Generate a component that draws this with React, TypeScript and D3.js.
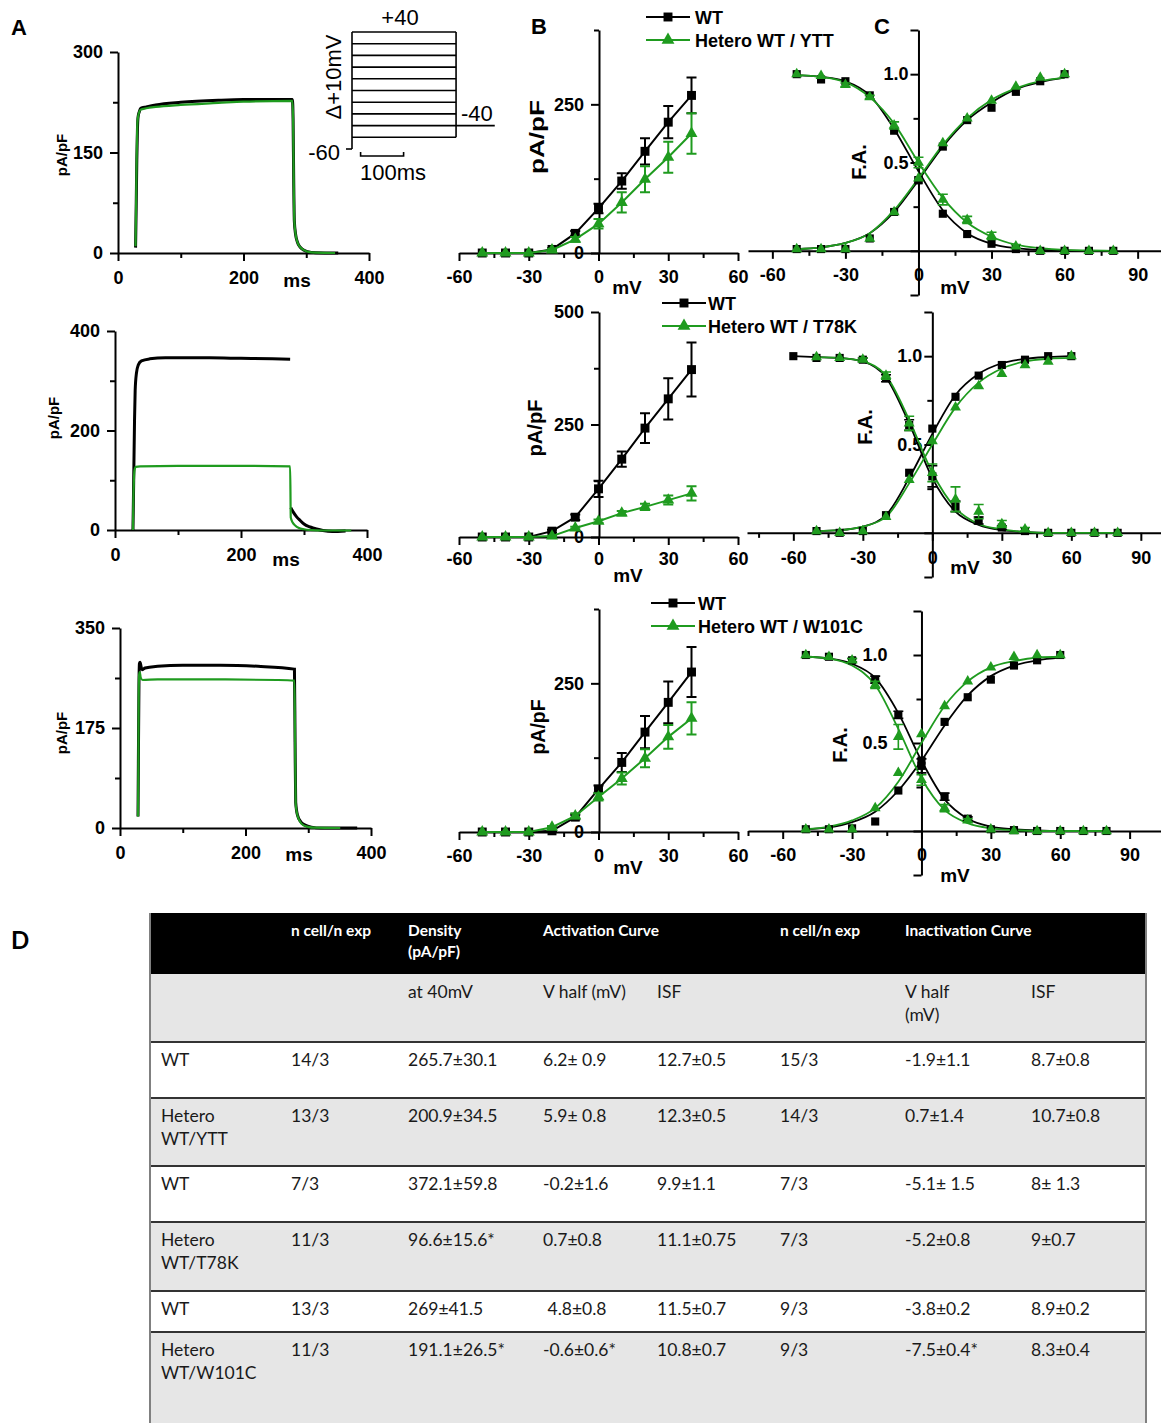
import * as React from 'react';
import * as d3 from 'd3';

type Pt = [number, number];

const GREEN = '#1f9b1f';
const FONT = '"Liberation Sans", Arial, sans-serif';
const TFONT = 'Lato, "Open Sans", sans-serif';

// ---------- A: representative current traces, [ms, pA/pF]
const TRACE_YTT_WT: Pt[] = [[28, 8], [29, 70], [30, 140], [31, 185], [32, 203], [34, 211], [36, 216], [45, 218], [60, 221], [100, 225], [160, 228], [200, 229], [278, 229], [279, 200], [280, 110], [281, 48], [283, 28], [286, 16], [290, 9], [295, 5], [302, 2], [315, 0.5], [351, 0]];
const TRACE_YTT_HET: Pt[] = [[28, 10], [29, 85], [30, 155], [31, 195], [33, 208], [36, 214], [45, 216], [60, 218], [100, 221], [160, 224], [200, 226], [278, 227], [279, 200], [280, 110], [281, 48], [283, 28], [286, 16], [290, 9], [295, 5], [302, 2], [315, 0.5], [346, 0]];
const TRACE_T78K_WT: Pt[] = [[28.5, 0], [29, 40], [30, 130], [31, 220], [32, 280], [34, 315], [37, 332], [42, 340], [55, 344], [80, 346], [150, 346], [200, 345], [250, 344], [278, 343], [278.5, NaN], [279, 45], [283, 36], [288, 27], [294, 19], [300, 12], [310, 6], [320, 2], [330, -1], [345, -3], [366, -2]];
const TRACE_T78K_HET: Pt[] = [[28.5, 0], [29, 50], [30, 100], [31, 120], [33, 127], [40, 128], [100, 129], [200, 129], [278, 128], [279, 25], [282, 15], [286, 9], [292, 4], [300, 1.5], [310, 0], [330, -1], [375, -1]];
const TRACE_W101C_WT: Pt[] = [[28.7, 20], [29.5, 150], [30.2, 250], [31, 288], [32, 290], [33.5, 283], [35, 277], [40, 280], [60, 283], [100, 285], [160, 285], [220, 283], [278, 278], [279, 150], [280, 45], [283, 22], [288, 11], [295, 5], [305, 1.5], [320, 0], [378, 0]];
const TRACE_W101C_HET: Pt[] = [[28.7, 20], [29.3, 120], [29.8, 230], [30.5, 268], [31.5, 273], [33, 263], [36, 259], [60, 260], [150, 260], [250, 259], [278, 258], [279, 150], [280, 42], [282, 26], [286, 13], [292, 5], [300, 2], [310, 0.5], [351, 0]];

// protocol inset: test steps (mV) and timing (ms)
const STEP_LEVELS = [40, 30, 20, 10, 0, -10, -20, -30, -40, -50];
const HOLD_MV = -60;
const TAIL_MV = -40;
const STEP_MS = 242;
const TAIL_END_MS = 332;

// ---------- B: current density vs voltage
const IV_V = [-50, -40, -30, -20, -10, 0, 10, 20, 30, 40];
const IV_YTT_WT = [0, 0, 0, 6, 33, 75, 121, 171, 220, 265];
const IV_YTT_WT_ERR = [0, 0, 0, 2, 4, 8, 13, 22, 27, 30];
const IV_YTT_HET = [0, 0, 0, 5, 23, 49, 85, 124, 161, 201];
const IV_YTT_HET_ERR = [0, 0, 0, 2, 4, 8, 17, 22, 26, 34];
const IV_T78K_WT = [0, 0, 0, 13, 44, 107, 173, 242, 307, 372];
const IV_T78K_WT_ERR = [0, 0, 0, 3, 6, 18, 17, 33, 46, 60];
const IV_T78K_HET = [0, 0, 0, 2, 20, 35, 53, 67, 82, 97];
const IV_T78K_HET_ERR = [0, 0, 0, 1, 3, 4, 5, 7, 10, 16];
const IV_W101C_WT = [0, 0, 0, 2, 25, 72, 117, 168, 218, 269];
const IV_W101C_WT_ERR = [0, 0, 0, 2, 4, 6, 16, 27, 35, 42];
const IV_W101C_HET = [0, 0, 0, 8, 27, 59, 90, 124, 160, 191];
const IV_W101C_HET_ERR = [0, 0, 0, 2, 4, 6, 10, 15, 20, 27];

// ---------- C: activation / inactivation (fraction available)
const ACT_V = [-50, -40, -30, -20, -10, 0, 10, 20, 30, 40, 50, 60];
const INACT_V = [-50, -40, -30, -20, -10, 0, 10, 20, 30, 40, 50, 60, 70, 80];
const INACT_V_FROM60 = [-60, -50, -40, -30, -20, -10, 0, 10, 20, 30, 40, 50, 60, 70, 80];

const FA_YTT_WT_ACT = [0.01, 0.01, 0.01, 0.07, 0.22, 0.40, 0.59, 0.74, 0.81, 0.90, 0.96, 1.0];
const FA_YTT_HET_ACT = [0.01, 0.01, 0.01, 0.07, 0.22, 0.41, 0.61, 0.75, 0.85, 0.93, 0.98, 1.0];
const FA_YTT_WT_INACT = [1.0, 0.97, 0.96, 0.88, 0.68, 0.40, 0.21, 0.095, 0.04, 0.01, 0, 0, 0, 0];
const FA_YTT_HET_INACT = [1.0, 0.99, 0.94, 0.87, 0.71, 0.50, 0.29, 0.175, 0.085, 0.025, 0, 0, 0, 0];
const FA_YTT_HET_INACT_ERR = [0, 0, 0.01, 0.01, 0.02, 0.03, 0.03, 0.02, 0.02, 0.01, 0, 0, 0, 0];
const FIT_YTT_WT_ACT = [0.01, 0.02, 0.045, 0.10, 0.22, 0.40, 0.59, 0.74, 0.84, 0.915, 0.955, 0.98];
const FIT_YTT_HET_ACT = [0.01, 0.02, 0.045, 0.10, 0.23, 0.41, 0.60, 0.75, 0.855, 0.92, 0.96, 0.98];
const FIT_YTT_WT_INACT = [0.995, 0.985, 0.96, 0.88, 0.69, 0.45, 0.23, 0.10, 0.04, 0.015, 0.005, 0.002, 0, 0];
const FIT_YTT_HET_INACT = [0.995, 0.985, 0.955, 0.87, 0.72, 0.50, 0.30, 0.16, 0.08, 0.035, 0.015, 0.005, 0.002, 0];

const FA_T78K_WT_ACT = [0.01, 0.0, 0.01, 0.10, 0.34, 0.59, 0.77, 0.89, 0.95, 0.98, 1.0, 1.0];
const FA_T78K_HET_ACT = [0.01, 0.0, 0.01, 0.09, 0.30, 0.52, 0.71, 0.83, 0.90, 0.95, 0.97, 1.0];
const FA_T78K_WT_INACT = [1.0, 0.99, 0.99, 0.98, 0.875, 0.61, 0.32, 0.15, 0.07, 0.03, 0.01, 0, 0, 0, 0];
const FA_T78K_WT_INACT_ERR = [0, 0, 0, 0.01, 0.02, 0.03, 0.06, 0.03, 0.02, 0.01, 0, 0, 0, 0, 0];
const FA_T78K_HET_INACT = [0.995, 0.99, 0.98, 0.89, 0.62, 0.34, 0.19, 0.12, 0.05, 0.02, 0, 0, 0, 0];
const FA_T78K_HET_INACT_ERR = [0, 0, 0.01, 0.02, 0.04, 0.05, 0.07, 0.04, 0.02, 0.01, 0, 0, 0, 0];
const FIT_T78K_WT_ACT = [0.01, 0.015, 0.035, 0.10, 0.31, 0.56, 0.78, 0.90, 0.96, 0.985, 0.995, 1.0];
const FIT_T78K_HET_ACT = [0.01, 0.015, 0.035, 0.09, 0.28, 0.50, 0.71, 0.85, 0.93, 0.97, 0.985, 0.99];
const FIT_T78K_WT_INACT = [1.0, 0.995, 0.99, 0.97, 0.88, 0.62, 0.31, 0.12, 0.045, 0.015, 0.005, 0, 0, 0, 0];
const FIT_T78K_HET_INACT = [0.995, 0.99, 0.97, 0.89, 0.64, 0.34, 0.14, 0.05, 0.02, 0.005, 0, 0, 0, 0];

const FA_W101C_WT_ACT = [0.01, 0.01, 0.015, 0.054, 0.23, 0.40, 0.62, 0.76, 0.86, 0.94, 0.97, 1.0];
const FA_W101C_HET_ACT = [0.01, 0.01, 0.01, 0.13, 0.33, 0.55, 0.71, 0.85, 0.93, 0.99, 1.0, 1.0];
const FA_W101C_WT_INACT = [1.0, 0.99, 0.97, 0.86, 0.66, 0.37, 0.195, 0.07, 0.01, 0.005, 0, 0, 0, 0];
const FA_W101C_WT_INACT_ERR = [0, 0, 0.01, 0.02, 0.02, 0.04, 0.02, 0.01, 0, 0, 0, 0, 0, 0];
const FA_W101C_HET_INACT = [1.0, 0.99, 0.97, 0.83, 0.535, 0.29, 0.13, 0.06, 0.01, 0, 0, 0, 0, 0];
const FA_W101C_HET_INACT_ERR = [0, 0, 0.01, 0.02, 0.07, 0.03, 0.02, 0.01, 0, 0, 0, 0, 0, 0];
const FIT_W101C_WT_ACT = [0.01, 0.02, 0.05, 0.11, 0.23, 0.40, 0.60, 0.77, 0.88, 0.94, 0.97, 0.985];
const FIT_W101C_HET_ACT = [0.01, 0.025, 0.06, 0.13, 0.28, 0.50, 0.71, 0.85, 0.93, 0.965, 0.985, 0.99];
const FIT_W101C_WT_INACT = [0.99, 0.98, 0.95, 0.87, 0.67, 0.40, 0.18, 0.07, 0.025, 0.01, 0.003, 0, 0, 0];
const FIT_W101C_HET_INACT = [0.99, 0.98, 0.94, 0.83, 0.58, 0.30, 0.12, 0.045, 0.015, 0.005, 0, 0, 0, 0];

// ---------- D: summary table
const TABLE_HEAD = ['', 'n cell/n exp', 'Density\n(pA/pF)', 'Activation Curve', '', 'n cell/n exp', 'Inactivation Curve', ''];
const TABLE_SUB = ['', '', 'at 40mV', 'V half (mV)', 'ISF', '', 'V half\n(mV)', 'ISF'];
const TABLE_ROWS = [
  ['WT', '14/3', '265.7±30.1', '6.2± 0.9', '12.7±0.5', '15/3', '-1.9±1.1', '8.7±0.8'],
  ['Hetero\nWT/YTT', '13/3', '200.9±34.5', '5.9± 0.8', '12.3±0.5', '14/3', '0.7±1.4', '10.7±0.8'],
  ['WT', '7/3', '372.1±59.8', '-0.2±1.6', '9.9±1.1', '7/3', '-5.1± 1.5', '8± 1.3'],
  ['Hetero\nWT/T78K', '11/3', '96.6±15.6*', '0.7±0.8', '11.1±0.75', '7/3', '-5.2±0.8', '9±0.7'],
  ['WT', '13/3', '269±41.5', ' 4.8±0.8', '11.5±0.7', '9/3', '-3.8±0.2', '8.9±0.2'],
  ['Hetero\nWT/W101C', '11/3', '191.1±26.5*', '-0.6±0.6*', '10.8±0.7', '9/3', '-7.5±0.4*', '8.3±0.4'],
];

type Sel = d3.Selection<any, any, any, any>;

function addText(g: Sel, x: number, y: number, s: string, o: any = {}) {
  return g.append('text').attr('x', x).attr('y', y).text(s)
    .attr('font-family', o.family ?? FONT)
    .attr('font-size', o.size ?? 18)
    .attr('font-weight', o.weight ?? 'bold')
    .attr('text-anchor', o.anchor ?? 'start')
    .attr('fill', o.fill ?? '#000');
}

function vText(g: Sel, x: number, y: number, s: string, size: number, len?: number) {
  const t = addText(g, 0, 0, s, { size, anchor: 'middle' })
    .attr('dominant-baseline', 'central')
    .attr('transform', `translate(${x},${y}) rotate(-90)`);
  if (len) t.attr('textLength', len).attr('lengthAdjust', 'spacingAndGlyphs');
  return t;
}

function styleAxis(ax: Sel, isMajor: (v: number) => boolean, orient: 'x' | 'y') {
  ax.attr('font-family', FONT).attr('font-size', 18).attr('font-weight', 'bold');
  ax.select('.domain').attr('stroke', '#000').attr('stroke-width', 2);
  ax.selectAll('.tick line').attr('stroke', '#000').attr('stroke-width', 2)
    .filter((d: any) => !isMajor(+d))
    .attr(orient === 'x' ? 'y2' : 'x2', orient === 'x' ? 5 : -5);
  ax.selectAll('.tick text').attr('fill', '#000');
}

function drawTrace(svg: Sel, c: any) {
  const x = d3.scaleLinear().domain([0, 400]).range([c.x0, c.x1]);
  const y = d3.scaleLinear().domain([0, c.yMax]).range([c.y0, c.y1]);
  const g = svg.append('g');
  const xa = g.append('g').attr('transform', `translate(0,${c.y0})`)
    .call(d3.axisBottom(x).tickValues([0, 100, 200, 300, 400]).tickSize(8).tickSizeOuter(0).tickPadding(10)
      .tickFormat((v: any) => (+v % 200 === 0 ? String(v) : '')));
  styleAxis(xa, (v) => v % 200 === 0, 'x');
  const ya = g.append('g').attr('transform', `translate(${c.x0},0)`)
    .call(d3.axisLeft(y).tickValues(c.yTicks).tickSize(8).tickSizeOuter(0).tickPadding(7)
      .tickFormat((v: any) => (c.yLabels.includes(+v) ? String(v) : '')));
  styleAxis(ya, (v) => c.yLabels.includes(v), 'y');
  addText(g, c.ms[0], c.ms[1] + 7, 'ms', { size: 19, anchor: 'middle' });
  vText(g, c.ylab[0], c.ylab[1], 'pA/pF', 15);

  const ln = d3.line<Pt>().defined((d) => !isNaN(d[1]))
    .x((d) => x(d[0])).y((d) => y(d[1])).curve(d3.curveMonotoneX);
  g.append('path').attr('d', ln(c.wt)).attr('fill', 'none').attr('stroke', '#000').attr('stroke-width', 3);
  g.append('path').attr('d', ln(c.het)).attr('fill', 'none').attr('stroke', GREEN).attr('stroke-width', 2.2);
}

function drawProtocol(svg: Sel) {
  const g = svg.append('g').attr('stroke', '#000').attr('stroke-width', 1.6).attr('fill', 'none');
  const v = d3.scaleLinear().domain([HOLD_MV, 40]).range([149, 32]);
  const t = d3.scaleLinear().domain([0, 100]).range([352, 395]);
  g.append('line').attr('x1', 346).attr('x2', t(0)).attr('y1', v(HOLD_MV)).attr('y2', v(HOLD_MV));
  g.append('line').attr('x1', t(0)).attr('x2', t(0)).attr('y1', v(HOLD_MV)).attr('y2', v(40));
  g.append('line').attr('x1', t(STEP_MS)).attr('x2', t(STEP_MS)).attr('y1', v(-50)).attr('y2', v(40));
  g.selectAll('.lvl').data(STEP_LEVELS).enter().append('line')
    .attr('x1', t(0)).attr('x2', t(STEP_MS)).attr('y1', (d) => v(d)).attr('y2', (d) => v(d));
  g.append('line').attr('x1', t(STEP_MS)).attr('x2', t(TAIL_END_MS)).attr('y1', v(TAIL_MV)).attr('y2', v(TAIL_MV));
  // 100 ms scale bar
  const sb = 156;
  g.append('path').attr('d', `M${t(20)},${sb - 4}V${sb}H${t(120)}V${sb - 4}`);
  const tg = svg.append('g');
  const o = { size: 22, weight: 'normal' };
  addText(tg, 400, 25, '+40', { ...o, anchor: 'middle' });
  addText(tg, 461, 121, '-40', o);
  addText(tg, 340, 160, '-60', { ...o, anchor: 'end' });
  addText(tg, 393, 180, '100ms', { ...o, anchor: 'middle' });
  addText(tg, 0, 0, 'Δ+10mV', { ...o, anchor: 'middle' })
    .attr('dominant-baseline', 'central').attr('transform', 'translate(333,77) rotate(-90)');
}

function errBars(g: Sel, xs: number[], ys: number[], es: number[] | undefined, x: any, y: any, color: string, w = 2) {
  if (!es) return;
  xs.forEach((xv, i) => {
    const e = es[i];
    if (!e) return;
    const px = x(xv);
    const top = y(ys[i] + e);
    const bot = y(ys[i] - e);
    g.append('path').attr('d', `M${px - 5},${top}H${px + 5}M${px},${top}V${bot}M${px - 5},${bot}H${px + 5}`)
      .attr('stroke', color).attr('stroke-width', w).attr('fill', 'none');
  });
}

const SQUARE = d3.symbol().type(d3.symbolSquare).size(80)() as string;
const TRI = d3.symbol().type(d3.symbolTriangle).size(62)() as string;
const SQUARE_S = d3.symbol().type(d3.symbolSquare).size(66)() as string;
const TRI_S = d3.symbol().type(d3.symbolTriangle).size(52)() as string;

function markers(g: Sel, xs: number[], ys: number[], x: any, y: any, shape: string, color: string) {
  g.selectAll(null).data(xs).enter().append('path')
    .attr('d', shape).attr('fill', color)
    .attr('transform', (d: number, i: number) => `translate(${x(d)},${y(ys[i])})`);
}

function drawIV(svg: Sel, c: any) {
  const x = d3.scaleLinear().domain([-60, 60]).range([459, 738]);
  const y = d3.scaleLinear().domain([0, c.yMax]).range([c.y0, c.y1]);
  const g = svg.append('g');
  const xa = g.append('g').attr('transform', `translate(0,${c.y0})`)
    .call(d3.axisBottom(x).tickValues([-60, -45, -30, -15, 0, 15, 30, 45, 60]).tickSize(8).tickSizeOuter(0).tickPadding(c.xPad)
      .tickFormat((v: any) => (+v % 30 === 0 ? String(v) : '')));
  styleAxis(xa, (v) => v % 30 === 0, 'x');
  const ya = g.append('g').attr('transform', `translate(599,0)`)
    .call(d3.axisLeft(y).tickValues(c.yTicks).tickSize(8).tickSizeOuter(0).tickPadding(7)
      .tickFormat((v: any) => (c.yLabels.includes(+v) ? String(v) : '')));
  styleAxis(ya, (v) => c.yLabels.includes(v), 'y');
  addText(g, c.mv[0], c.mv[1] + 7, 'mV', { size: 19, anchor: 'middle' });
  vText(g, c.ylab[0], c.ylab[1], 'pA/pF', 20, c.ylabLen);

  const ln = d3.line<number>().x((d) => x(d));
  const series = [
    { ys: c.wt, es: c.wtErr, color: '#000', shape: SQUARE },
    { ys: c.het, es: c.hetErr, color: GREEN, shape: TRI },
  ];
  series.forEach((s) => {
    g.append('path').attr('d', ln.y((d, i) => y(s.ys[i]))(IV_V)).attr('fill', 'none')
      .attr('stroke', s.color).attr('stroke-width', 2);
    errBars(g, IV_V, s.ys, s.es, x, y, s.color);
    markers(g, IV_V, s.ys, x, y, s.shape, s.color);
  });

  // legend
  const [cx, ly, tx] = c.legend;
  [{ name: 'WT', color: '#000', shape: SQUARE, dy: 0 }, { name: c.hetName, color: GREEN, shape: d3.symbol().type(d3.symbolTriangle).size(72)() as string, dy: 23 }]
    .forEach((l) => {
      g.append('line').attr('x1', cx - 22).attr('x2', cx + 22).attr('y1', ly + l.dy).attr('y2', ly + l.dy)
        .attr('stroke', l.color).attr('stroke-width', 2);
      g.append('path').attr('d', l.shape).attr('fill', l.color).attr('transform', `translate(${cx},${ly + l.dy})`);
      addText(g, tx, ly + l.dy + 6.5, l.name, { size: 18 });
    });
}

function drawFA(svg: Sel, c: any) {
  const x = d3.scaleLinear().domain(c.xDom).range([c.x0, c.x1]);
  const y = d3.scaleLinear().domain([-0.25, 1.25]).range([c.y0, c.y1]);
  const g = svg.append('g');
  const xt = [-75, -60, -45, -30, -15, 0, 15, 30, 45, 60, 75, 90].filter((v) => v >= c.xDom[0]);
  const xa = g.append('g').attr('transform', `translate(0,${y(0)})`)
    .call(d3.axisBottom(x).tickValues(xt).tickSize(8).tickSizeOuter(0).tickPadding(c.xPad)
      .tickFormat((v: any) => (+v % 30 === 0 ? String(v) : '')));
  styleAxis(xa, (v) => v % 30 === 0, 'x');
  const fmt = d3.format('.1f');
  const ya = g.append('g').attr('transform', `translate(${x(0)},0)`)
    .call(d3.axisLeft(y).tickValues([-0.25, 0, 0.25, 0.5, 0.75, 1, 1.25]).tickSize(8).tickSizeOuter(0).tickPadding(c.yPad)
      .tickFormat((v: any) => (+v === 0.5 || +v === 1 ? fmt(+v) : '')));
  styleAxis(ya, (v) => [-0.25, 0, 0.5, 1, 1.25].includes(v), 'y');
  addText(g, c.mv[0], c.mv[1] + 7, 'mV', { size: 19, anchor: 'middle' });
  vText(g, c.ylab[0], c.ylab[1], 'F.A.', 20);

  const ln = d3.line<Pt>().x((d) => x(d[0])).y((d) => y(d[1])).curve(d3.curveMonotoneX);
  c.series.forEach((s: any) => {
    g.append('path').attr('d', ln(s.v.map((vv: number, i: number) => [vv, s.fit[i]] as Pt)))
      .attr('fill', 'none').attr('stroke', s.color).attr('stroke-width', 1.8);
  });
  c.series.forEach((s: any) => {
    errBars(g, s.v, s.pts, s.err, x, y, s.color, 1.6);
    markers(g, s.v, s.pts, x, y, s.color === GREEN ? TRI_S : SQUARE_S, s.color);
  });
}

function faSeries(wtAct: number[], wtActFit: number[], wtIn: number[], wtInFit: number[], wtInV: number[], wtInErr: number[] | undefined,
  hAct: number[], hActFit: number[], hIn: number[], hInFit: number[], hInErr: number[] | undefined) {
  return [
    { v: ACT_V, pts: wtAct, fit: wtActFit, color: '#000' },
    { v: wtInV, pts: wtIn, fit: wtInFit, err: wtInErr, color: '#000' },
    { v: ACT_V, pts: hAct, fit: hActFit, color: GREEN },
    { v: INACT_V, pts: hIn, fit: hInFit, err: hInErr, color: GREEN },
  ];
}

const ROWS = [
  {
    trace: { wt: TRACE_YTT_WT, het: TRACE_YTT_HET, yMax: 300, yTicks: [0, 75, 150, 225, 300], yLabels: [0, 150, 300], x0: 118, x1: 369, y0: 253, y1: 52, ms: [297, 280], ylab: [61, 155] },
    iv: { wt: IV_YTT_WT, wtErr: IV_YTT_WT_ERR, het: IV_YTT_HET, hetErr: IV_YTT_HET_ERR, yMax: 375, yTicks: [0, 125, 250, 375], yLabels: [0, 250], y0: 253, y1: 30, xPad: 9, mv: [627, 287], ylab: [537, 137], ylabLen: 74, legend: [668, 17, 695], hetName: 'Hetero WT / YTT' },
    fa: { xDom: [-70, 100], x0: 748, x1: 1162, y0: 295, y1: 30, xPad: 9, yPad: 2, mv: [955, 287], ylab: [859, 162],
      series: faSeries(FA_YTT_WT_ACT, FIT_YTT_WT_ACT, FA_YTT_WT_INACT, FIT_YTT_WT_INACT, INACT_V, undefined, FA_YTT_HET_ACT, FIT_YTT_HET_ACT, FA_YTT_HET_INACT, FIT_YTT_HET_INACT, FA_YTT_HET_INACT_ERR) },
  },
  {
    trace: { wt: TRACE_T78K_WT, het: TRACE_T78K_HET, yMax: 400, yTicks: [0, 100, 200, 300, 400], yLabels: [0, 200, 400], x0: 115, x1: 367, y0: 530, y1: 331, ms: [286, 559], ylab: [53, 418] },
    iv: { wt: IV_T78K_WT, wtErr: IV_T78K_WT_ERR, het: IV_T78K_HET, hetErr: IV_T78K_HET_ERR, yMax: 500, yTicks: [0, 125, 250, 375, 500], yLabels: [0, 250, 500], y0: 537, y1: 312, xPad: 7, mv: [628, 575], ylab: [535, 428], ylabLen: 57, legend: [684, 303, 708], hetName: 'Hetero WT / T78K' },
    fa: { xDom: [-80, 100], x0: 747, x1: 1164, y0: 577, y1: 312, xPad: 10, yPad: 2, mv: [965, 567], ylab: [865, 427],
      series: faSeries(FA_T78K_WT_ACT, FIT_T78K_WT_ACT, FA_T78K_WT_INACT, FIT_T78K_WT_INACT, INACT_V_FROM60, FA_T78K_WT_INACT_ERR, FA_T78K_HET_ACT, FIT_T78K_HET_ACT, FA_T78K_HET_INACT, FIT_T78K_HET_INACT, FA_T78K_HET_INACT_ERR) },
  },
  {
    trace: { wt: TRACE_W101C_WT, het: TRACE_W101C_HET, yMax: 350, yTicks: [0, 87.5, 175, 262.5, 350], yLabels: [0, 175, 350], x0: 120, x1: 371, y0: 828, y1: 628, ms: [299, 854], ylab: [61, 733] },
    iv: { wt: IV_W101C_WT, wtErr: IV_W101C_WT_ERR, het: IV_W101C_HET, hetErr: IV_W101C_HET_ERR, yMax: 375, yTicks: [0, 125, 250, 375], yLabels: [0, 250], y0: 832, y1: 609, xPad: 9, mv: [628, 867], ylab: [538, 727], ylabLen: 55, legend: [673, 603, 698], hetName: 'Hetero WT / W101C' },
    fa: { xDom: [-75, 104], x0: 748, x1: 1162, y0: 875, y1: 611, xPad: 9, yPad: 26, mv: [955, 875], ylab: [840, 745],
      series: faSeries(FA_W101C_WT_ACT, FIT_W101C_WT_ACT, FA_W101C_WT_INACT, FIT_W101C_WT_INACT, INACT_V, FA_W101C_WT_INACT_ERR, FA_W101C_HET_ACT, FIT_W101C_HET_ACT, FA_W101C_HET_INACT, FIT_W101C_HET_INACT, FA_W101C_HET_INACT_ERR) },
  },
];

function drawTable(svg: Sel) {
  const g = svg.append('g');
  const left = 150;
  const right = 1146;
  const rowY = [913, 974, 1042, 1098, 1166, 1222, 1291, 1332, 1440];
  const colX = [161, 291, 408, 543, 657, 780, 905, 1031];
  const fills = ['#000', '#e6e6e6', '#fff', '#e6e6e6', '#fff', '#e6e6e6', '#fff', '#e6e6e6'];
  fills.forEach((f, i) => {
    g.append('rect').attr('x', left).attr('y', rowY[i]).attr('width', right - left).attr('height', rowY[i + 1] - rowY[i]).attr('fill', f);
  });
  for (let i = 2; i <= 7; i++) {
    g.append('line').attr('x1', left).attr('x2', right).attr('y1', rowY[i]).attr('y2', rowY[i]).attr('stroke', '#333').attr('stroke-width', 2);
  }
  [left, right].forEach((xx) => {
    g.append('line').attr('x1', xx).attr('x2', xx).attr('y1', rowY[0]).attr('y2', 1423).attr('stroke', '#808080').attr('stroke-width', 2);
  });
  const cell = (s: string, ci: number, top: number, head: boolean) => {
    s.split('\n').forEach((line, li) => {
      addText(g, colX[ci], top + (head ? 22.5 + li * 21 : 24 + li * 23), line, {
        family: TFONT, size: head ? 15.5 : 17.5, weight: head ? 'bold' : 'normal', fill: head ? '#fff' : '#1a1a1a',
      }).style('white-space', 'pre');
    });
  };
  TABLE_HEAD.forEach((s, ci) => s && cell(s, ci, rowY[0], true));
  TABLE_SUB.forEach((s, ci) => s && cell(s, ci, rowY[1], false));
  TABLE_ROWS.forEach((r, ri) => r.forEach((s, ci) => cell(s, ci, rowY[ri + 2], false)));
  addText(svg, 11, 949, 'D', { family: TFONT, size: 24 });
}

export default function App() {
  const ref = React.useRef<SVGSVGElement>(null);
  React.useEffect(() => {
    const svg = d3.select(ref.current);
    svg.selectAll('*').remove();
    svg.append('rect').attr('width', 1161).attr('height', 1423).attr('fill', '#fff');
    ROWS.forEach((r) => {
      drawTrace(svg, r.trace);
      drawIV(svg, r.iv);
      drawFA(svg, r.fa);
    });
    drawProtocol(svg);
    addText(svg, 11, 35, 'A', { size: 22 });
    addText(svg, 531, 34, 'B', { size: 22 });
    addText(svg, 874, 34, 'C', { size: 22 });
    drawTable(svg);
  }, []);
  return <svg ref={ref} width={1161} height={1423} style={{ position: 'absolute', left: 0, top: 0 }} />;
}
